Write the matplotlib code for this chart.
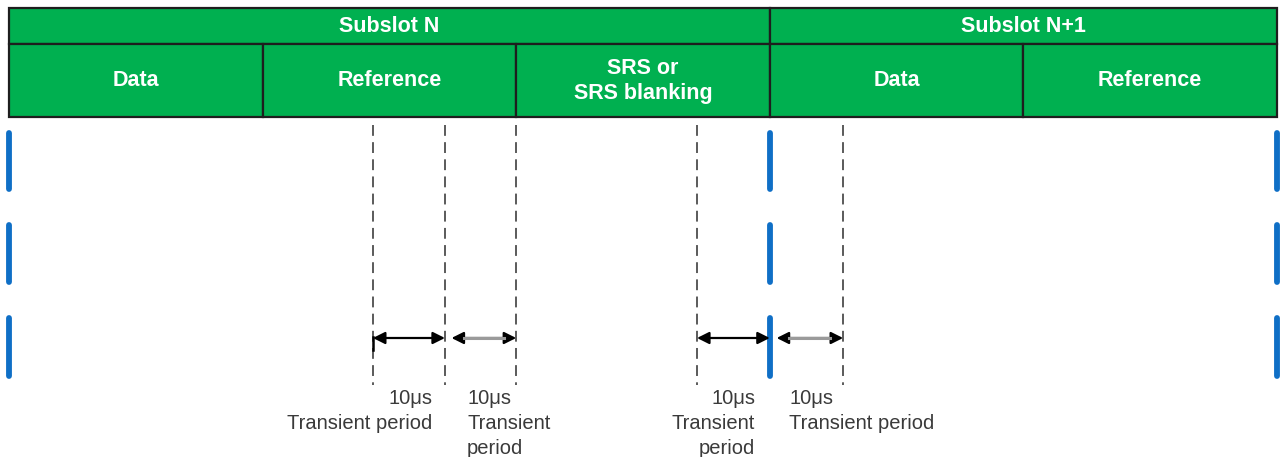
import matplotlib.pyplot as plt
from matplotlib.patches import Rectangle

# x in column units (one column per field), y in pixel rows of the drawing
subslots = ['Subslot N', 'Subslot N+1']
subslot_edges = [0, 3, 5]
columns = ['Data', 'Reference', 'SRS or\nSRS blanking', 'Data', 'Reference']
col_edges = [0, 1, 2, 3, 4, 5]
boundaries = [0, 3, 5]                     # blue slot boundaries
dashed = [1.435, 1.719, 2.0, 2.713, 3.289]  # transient limits
arrows = [(1.435, 1.719), (1.745, 2.0), (2.713, 3.0), (3.027, 3.289)]
arrow_shaft = ['black', '#9a9a9a', 'black', '#9a9a9a']
labels = ['10\u03bcs\nTransient period', '10\u03bcs\nTransient\nperiod',
          '10\u03bcs\nTransient\nperiod', '10\u03bcs\nTransient period']
label_x = [1.668, 1.806, 2.942, 3.076]
label_ha = ['right', 'left', 'right', 'left']

green = '#00B050'
edge = '#1e1e1e'
blue = '#0F6FC6'

fig = plt.figure(figsize=(12.84, 4.57), dpi=100)
ax = fig.add_axes([0, 0, 1, 1])
ax.set_xlim(-9 / 253.6, 5 + 7 / 253.6)
ax.set_ylim(457, 0)
ax.axis('off')

head_font = ['Liberation Sans', 'DejaVu Sans']
body_font = ['Liberation Sans', 'DejaVu Sans']

# top row: subslots
for name, a, b in zip(subslots, subslot_edges[:-1], subslot_edges[1:]):
    ax.add_patch(Rectangle((a, 8), b - a, 36, facecolor=green,
                           edgecolor=edge, lw=1.6))
    ax.text((a + b) / 2, 26, name, ha='center', va='center', color='white',
            fontsize=15.5, fontweight='bold', family=head_font)

# second row: fields
for name, a, b in zip(columns, col_edges[:-1], col_edges[1:]):
    ax.add_patch(Rectangle((a, 44), b - a, 73, facecolor=green,
                           edgecolor=edge, lw=1.6))
    ax.text((a + b) / 2, 81, name, ha='center', va='center', color='white',
            fontsize=15.5, fontweight='bold', family=head_font, linespacing=1.3)

# blue boundary marks
for x in boundaries:
    for y0, y1 in [(133, 189), (225, 282), (318, 376)]:
        ax.plot([x, x], [y0, y1], color=blue, lw=4.2, solid_capstyle='round')

# dashed transient limits
for x in dashed:
    ax.plot([x, x], [125, 385], color='#4d4d4d', lw=1.3, dashes=(6, 3.5))

# arrows
for (a, b), c in zip(arrows, arrow_shaft):
    ax.annotate('', xy=(b, 338), xytext=(a, 338),
                arrowprops=dict(arrowstyle='<|-|>', color='black', lw=1.6,
                                mutation_scale=18, shrinkA=0, shrinkB=0))
    if c != 'black':
        ax.plot([a + 0.05, b - 0.05], [338, 338], color=c, lw=2.2, zorder=5)
ax.plot([dashed[0], dashed[0]], [337, 350], color='black', lw=1.8)

# labels
for t, x, ha in zip(labels, label_x, label_ha):
    ax.text(x, 389, t, ha=ha, va='top', multialignment=ha, color='#3a3a3a',
            fontsize=14.5, family=body_font, linespacing=1.4)

fig.savefig('out.png', dpi=100)
